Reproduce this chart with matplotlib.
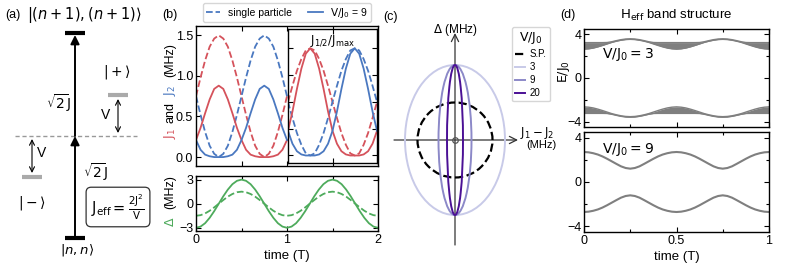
import numpy as np
import matplotlib
matplotlib.use('Agg')
import matplotlib.pyplot as plt
from matplotlib.patches import Ellipse
from matplotlib.lines import Line2D

plt.rcParams['font.family'] = ['Liberation Sans', 'DejaVu Sans']
plt.rcParams['mathtext.fontset'] = 'dejavusans'
plt.rcParams['font.size'] = 8.5
plt.rcParams['xtick.direction'] = 'in'
plt.rcParams['ytick.direction'] = 'in'
plt.rcParams['axes.linewidth'] = 1.0

# colours
RED = '#d5525b'
BLUE = '#4a78c0'
GREEN = '#4eab5c'
GRAY = '#7f7f7f'

# ---- data, panel (b): couplings over one period (step 0.05 T)
t_b = np.linspace(0, 1, 21)
j1_sp = [0.75, 0.98, 1.19, 1.36, 1.46, 1.50, 1.46, 1.36, 1.19, 0.98, 0.75,
         0.52, 0.31, 0.14, 0.04, 0.00, 0.04, 0.14, 0.31, 0.52, 0.75]
j2_sp = [0.75, 0.52, 0.31, 0.14, 0.04, 0.00, 0.04, 0.14, 0.31, 0.52, 0.75,
         0.98, 1.19, 1.36, 1.46, 1.50, 1.46, 1.36, 1.19, 0.98, 0.75]
j1_int = [0.21, 0.36, 0.54, 0.71, 0.84, 0.88, 0.84, 0.71, 0.54, 0.36, 0.21,
          0.09, 0.03, 0.01, 0.00, 0.00, 0.00, 0.01, 0.03, 0.09, 0.21]
j2_int = [0.21, 0.09, 0.03, 0.01, 0.00, 0.00, 0.00, 0.01, 0.03, 0.09, 0.21,
          0.36, 0.54, 0.71, 0.84, 0.88, 0.84, 0.71, 0.54, 0.36, 0.21]

# normalised J/Jmax, second period
t_n = np.linspace(1, 2, 21)
n1_sp = [0.50, 0.65, 0.79, 0.90, 0.98, 1.00, 0.98, 0.90, 0.79, 0.65, 0.50,
         0.35, 0.21, 0.10, 0.02, 0.00, 0.02, 0.10, 0.21, 0.35, 0.50]
n2_sp = [0.50, 0.35, 0.21, 0.10, 0.02, 0.00, 0.02, 0.10, 0.21, 0.35, 0.50,
         0.65, 0.79, 0.90, 0.98, 1.00, 0.98, 0.90, 0.79, 0.65, 0.50]
n1_int = [0.23, 0.41, 0.62, 0.81, 0.95, 1.00, 0.95, 0.81, 0.62, 0.41, 0.23,
          0.11, 0.04, 0.01, 0.00, 0.00, 0.00, 0.01, 0.04, 0.11, 0.23]
n2_int = [0.23, 0.11, 0.04, 0.01, 0.00, 0.00, 0.00, 0.01, 0.04, 0.11, 0.23,
          0.41, 0.62, 0.81, 0.95, 1.00, 0.95, 0.81, 0.62, 0.41, 0.23]

# detuning over two periods
t_d = np.linspace(0, 2, 41)
delta_int = [-3.00, -2.85, -2.43, -1.76, -0.93, 0.00, 0.93, 1.76, 2.43, 2.85, 3.00,
             2.85, 2.43, 1.76, 0.93, 0.00, -0.93, -1.76, -2.43, -2.85, -3.00,
             -2.85, -2.43, -1.76, -0.93, 0.00, 0.93, 1.76, 2.43, 2.85, 3.00,
             2.85, 2.43, 1.76, 0.93, 0.00, -0.93, -1.76, -2.43, -2.85, -3.00]
delta_sp = [-1.50, -1.43, -1.21, -0.88, -0.46, 0.00, 0.46, 0.88, 1.21, 1.43, 1.50,
            1.43, 1.21, 0.88, 0.46, 0.00, -0.46, -0.88, -1.21, -1.43, -1.50,
            -1.43, -1.21, -0.88, -0.46, 0.00, 0.46, 0.88, 1.21, 1.43, 1.50,
            1.43, 1.21, 0.88, 0.46, 0.00, -0.46, -0.88, -1.21, -1.43, -1.50]

# ---- data, panel (c): trajectories (semi-axes)
ell_labels = ['S.P.', '3', '9', '20']
ell_dj = [1.5, 2.0, 0.66, 0.32]
ell_dd = [1.5, 3.0, 3.0, 3.0]
ell_colors = ['k', '#c8cae8', '#8c89c8', '#4b1095']

# ---- data, panel (d): band edges (step 0.025 T)
t_e = np.linspace(0, 1, 41)
band3_in = [2.65, 2.68, 2.75, 2.86, 2.99, 3.13, 3.27, 3.38, 3.47, 3.53, 3.55,
            3.53, 3.47, 3.38, 3.27, 3.13, 2.99, 2.86, 2.75, 2.68, 2.65,
            2.68, 2.75, 2.86, 2.99, 3.13, 3.27, 3.38, 3.47, 3.53, 3.55,
            3.53, 3.47, 3.38, 3.27, 3.13, 2.99, 2.86, 2.75, 2.68, 2.65]
band3_out = [3.25, 3.25, 3.25, 3.25, 3.25, 3.26, 3.33, 3.43, 3.52, 3.58, 3.60,
             3.58, 3.52, 3.43, 3.33, 3.26, 3.25, 3.25, 3.25, 3.25, 3.25,
             3.25, 3.25, 3.25, 3.25, 3.26, 3.33, 3.43, 3.52, 3.58, 3.60,
             3.58, 3.52, 3.43, 3.33, 3.26, 3.25, 3.25, 3.25, 3.25, 3.25]
band9 = [2.70, 2.67, 2.59, 2.47, 2.30, 2.09, 1.86, 1.63, 1.41, 1.26, 1.20,
         1.26, 1.41, 1.63, 1.86, 2.09, 2.30, 2.47, 2.59, 2.67, 2.70,
         2.67, 2.59, 2.47, 2.30, 2.09, 1.86, 1.63, 1.41, 1.26, 1.20,
         1.26, 1.41, 1.63, 1.86, 2.09, 2.30, 2.47, 2.59, 2.67, 2.70]

W, H = 793, 264
fig = plt.figure(figsize=(W / 100, H / 100), dpi=100)


def box(x0, y0, x1, y1):
    # pixel box (top-left origin) -> figure fraction rect
    return [x0 / W, 1 - y1 / H, (x1 - x0) / W, (y1 - y0) / H]


def ticks_all(ax):
    ax.tick_params(which='both', top=True, right=True, direction='in')
    ax.tick_params(which='major', length=3.5, width=0.8, pad=2)
    ax.tick_params(which='minor', length=2.5, width=0.8)


# ================= panel (a): level scheme
axa = fig.add_axes([0, 0, 170 / W, 1])
axa.set_xlim(0, 170)
axa.set_ylim(264, 0)
axa.axis('off')
top_lvl, mid_lvl, bot_lvl = 33, 136, 238
plus_lvl, minus_lvl = 95, 177
axa.plot([65, 85], [top_lvl, top_lvl], color='k', lw=3, solid_capstyle='butt')
axa.plot([65, 85], [bot_lvl, bot_lvl], color='k', lw=3, solid_capstyle='butt')
axa.plot([15, 137], [mid_lvl, mid_lvl], color='#999999', lw=1, ls=(0, (3, 2)))
axa.plot([108, 128], [plus_lvl, plus_lvl], color='#aaaaaa', lw=3, solid_capstyle='butt')
axa.plot([22, 42], [minus_lvl, minus_lvl], color='#aaaaaa', lw=3, solid_capstyle='butt')
arr = dict(arrowstyle='-|>', color='k', lw=1.4, mutation_scale=13, shrinkA=0, shrinkB=0)
axa.annotate('', xy=(75, mid_lvl), xytext=(75, bot_lvl - 1), arrowprops=arr)
axa.annotate('', xy=(75, top_lvl + 2), xytext=(75, mid_lvl), arrowprops=arr)
darr = dict(arrowstyle='<->', color='k', lw=0.8, mutation_scale=9, shrinkA=0, shrinkB=0)
axa.annotate('', xy=(118, plus_lvl + 4), xytext=(118, mid_lvl - 3), arrowprops=darr)
axa.annotate('', xy=(32, mid_lvl + 3), xytext=(32, minus_lvl - 4), arrowprops=darr)
axa.text(13, 15, '(a)', ha='center', va='center', fontsize=9)
axa.text(84, 15, r'$|(n+1),(n+1)\rangle$', ha='center', va='center', fontsize=10.5)
axa.text(77, 250, r'$|n,n\rangle$', ha='center', va='center', fontsize=9.5)
axa.text(58, 103, r'$\sqrt{2}\mathrm{J}$', ha='center', va='center', fontsize=10)
axa.text(95, 172, r'$\sqrt{2}\mathrm{J}$', ha='center', va='center', fontsize=10)
axa.text(117, 72, r'$|+\rangle$', ha='center', va='center', fontsize=10)
axa.text(32, 203, r'$|-\rangle$', ha='center', va='center', fontsize=10)
axa.text(106, 115, 'V', ha='center', va='center', fontsize=10)
axa.text(42, 153, 'V', ha='center', va='center', fontsize=10)
axa.text(118, 207, r'$\mathrm{J_{eff}} = \frac{2\mathrm{J}^2}{\mathrm{V}}$',
         ha='center', va='center', fontsize=10.5,
         bbox=dict(boxstyle='round,pad=0.35', fc='white', ec='#333333', lw=0.9))

# ================= panel (b) top
axb = fig.add_axes(box(196, 26, 378, 166))
axb.plot(t_b, j1_sp, color=RED, ls='--', lw=1.3)
axb.plot(t_b, j2_sp, color=BLUE, ls='--', lw=1.3)
axb.plot(t_b, j1_int, color=RED, lw=1.3)
axb.plot(t_b, j2_int, color=BLUE, lw=1.3)
axb.set_xlim(0, 2)
axb.set_ylim(-0.11, 1.615)
axb.set_yticks([0, 0.5, 1.0, 1.5])
axb.set_xticks([0.5, 1.0, 1.5])
axb.set_xticklabels([])
ticks_all(axb)
axb.tick_params(labelsize=9)

axi = fig.add_axes(box(288, 29, 377, 163))
axi.plot(t_n, n1_sp, color=RED, ls='--', lw=1.3)
axi.plot(t_n, n2_sp, color=BLUE, ls='--', lw=1.3)
axi.plot(t_n, n1_int, color=RED, lw=1.3)
axi.plot(t_n, n2_int, color=BLUE, lw=1.3)
axi.set_xlim(1, 2)
axi.set_ylim(-0.07, 1.18)
axi.set_xticks([1.5])
axi.set_yticks([0, 0.25, 0.5, 0.75, 1.0])
axi.set_xticklabels([])
axi.set_yticklabels([])
ticks_all(axi)
axi.text(0.5, 0.97, r'$\mathrm{J_{1/2}/J_{max}}$', transform=axi.transAxes,
         ha='center', va='top', fontsize=8.5)

h_sp = Line2D([], [], color=BLUE, ls='--', lw=1.3)
h_int = Line2D([], [], color=BLUE, lw=1.3)
fig.legend([h_sp, h_int], ['single particle', r'$\mathrm{V/J_0}$ = 9'], ncol=2,
           loc='center', bbox_to_anchor=(287 / W, 1 - 12.5 / H), fontsize=7.5,
           handlelength=1.4, columnspacing=1.6, borderpad=0.25, handletextpad=0.7,
           frameon=True, edgecolor='#cccccc', fancybox=True)

# multi-coloured y label
yl_x = 170 / W
for txt, ypx, col in [(r'$\mathrm{J_1}$', 133, RED), ('and', 112, 'k'),
                      (r'$\mathrm{J_2}$', 90, BLUE), ('(MHz)', 60, 'k')]:
    fig.text(yl_x, 1 - ypx / H, txt, rotation=90, ha='center', va='center',
             color=col, fontsize=9)
fig.text(170 / W, 1 - 15 / H, '(b)', ha='center', va='center', fontsize=9)

# ================= panel (b) bottom: detuning
axdl = fig.add_axes(box(196, 176, 378, 231))
axdl.plot(t_d, delta_sp, color=GREEN, ls='--', lw=1.3)
axdl.plot(t_d, delta_int, color=GREEN, lw=1.3)
axdl.set_xlim(0, 2)
axdl.set_ylim(-3.4, 3.45)
axdl.set_yticks([-3, 0, 3])
axdl.set_xticks([0, 1, 2])
axdl.set_xticks([0.5, 1.5], minor=True)
ticks_all(axdl)
axdl.tick_params(labelsize=9)
axdl.set_xlabel('time (T)', fontsize=9.5, labelpad=3)
fig.text(170 / W, 1 - 222 / H, r'$\Delta$', rotation=90, ha='center', va='center',
         color=GREEN, fontsize=9)
fig.text(170 / W, 1 - 192 / H, '(MHz)', rotation=90, ha='center', va='center',
         color='k', fontsize=9)

# ================= panel (c): trajectories
axc = fig.add_axes(box(393, 28, 520, 250))
axc.set_xlim(-2.48, 2.6)
axc.set_ylim(-4.4, 4.48)
axc.axis('off')
ax_arr = dict(arrowstyle='->', color='#333333', lw=0.9, mutation_scale=13,
              shrinkA=0, shrinkB=0)
axc.annotate('', xy=(2.52, 0), xytext=(-2.44, 0), arrowprops=ax_arr)
axc.annotate('', xy=(0, 4.28), xytext=(0, -4.2), arrowprops=ax_arr)
handles = []
for k in [1, 2, 3, 0]:
    ls = '--' if k == 0 else '-'
    lw = 1.6 if k == 0 else 1.4
    axc.add_patch(Ellipse((0, 0), 2 * ell_dj[k], 2 * ell_dd[k], fill=False,
                          ec=ell_colors[k], ls=ls, lw=lw, zorder=3 + k))
for k in range(4):
    handles.append(Line2D([], [], color=ell_colors[k], ls='--' if k == 0 else '-',
                          lw=1.6 if k == 0 else 1.4))
axc.plot([0], [0], 'o', mfc='none', mec='#555555', ms=4, mew=0.9, zorder=10)
axc.text(0, 4.42, r'$\Delta$ (MHz)', ha='center', va='center', fontsize=8.5,
         clip_on=False)
axc.text(2.62, 0.3, r'$\mathrm{J_1 - J_2}$', ha='left', va='center', fontsize=8.5,
         clip_on=False)
axc.text(2.85, -0.22, '(MHz)', ha='left', va='center', fontsize=8, clip_on=False)
fig.text(390 / W, 1 - 17 / H, '(c)', ha='center', va='center', fontsize=9)
fig.legend(handles, ell_labels, title=r'$\mathrm{V/J_0}$', loc='upper left',
           bbox_to_anchor=(512 / W, 1 - 27 / H), fontsize=7, title_fontsize=9,
           handlelength=1.0, borderpad=0.35, labelspacing=0.3, handletextpad=0.5,
           borderaxespad=0, frameon=True, edgecolor='#cccccc', fancybox=True)

# ================= panel (d): band structure
axe1 = fig.add_axes(box(584, 29, 769, 127))
axe1.fill_between(t_e, band3_in, band3_out, color=GRAY, lw=0)
axe1.plot(t_e, band3_in, color=GRAY, lw=1)
axe1.plot(t_e, band3_out, color=GRAY, lw=1)
axe1.fill_between(t_e, -np.array(band3_in), -np.array(band3_out), color=GRAY, lw=0)
axe1.plot(t_e, -np.array(band3_in), color=GRAY, lw=1)
axe1.plot(t_e, -np.array(band3_out), color=GRAY, lw=1)
axe1.text(0.1, 0.74, r'$\mathrm{V/J_0 = 3}$', transform=axe1.transAxes,
          ha='left', va='center', fontsize=10)

axe2 = fig.add_axes(box(584, 132, 769, 232))
axe2.plot(t_e, band9, color=GRAY, lw=1.5)
axe2.plot(t_e, -np.array(band9), color=GRAY, lw=1.5)
axe2.text(0.1, 0.83, r'$\mathrm{V/J_0 = 9}$', transform=axe2.transAxes,
          ha='left', va='center', fontsize=10)

for ax in (axe1, axe2):
    ax.set_xlim(0, 1)
    ax.set_ylim(-4.5, 4.5)
    ax.set_yticks([-4, 0, 4])
    ax.set_yticks([-2, 2], minor=True)
    ax.set_xticks([0, 0.5, 1])
    ax.set_xticks([0.25, 0.75], minor=True)
    ax.set_xticklabels(['0', '0.5', '1'])
    ticks_all(ax)
    ax.tick_params(labelsize=9)
axe1.set_xticklabels([])
axe2.set_xlabel('time (T)', fontsize=9.5, labelpad=3)
fig.text(564 / W, 1 - 72 / H, r'$\mathrm{E/J_0}$', rotation=90, ha='center',
         va='center', fontsize=9)
fig.text(568 / W, 1 - 15 / H, '(d)', ha='center', va='center', fontsize=9)
fig.text(676 / W, 1 - 15 / H, r'$\mathrm{H_{eff}}$ band structure', ha='center',
         va='center', fontsize=9.5)

fig.savefig('out.png', dpi=100)
